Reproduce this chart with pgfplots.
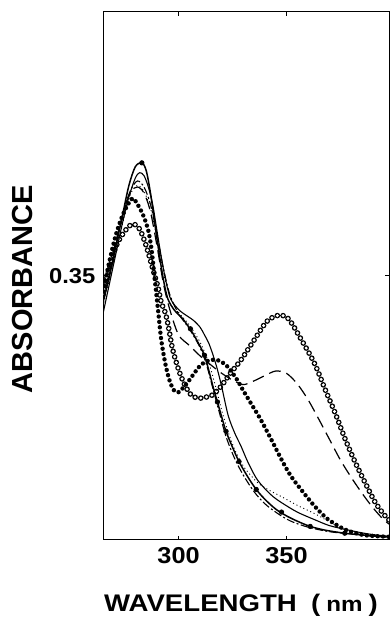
\documentclass[border=0pt]{standalone}
\usepackage{fontspec}
\setmainfont{Liberation Sans}
\newfontfamily\tickfont[FakeStretch=1.1]{Liberation Sans}
\newfontfamily\labfont[FakeStretch=1.15]{Liberation Sans}
\usepackage{pgfplots}
\pgfplotsset{compat=1.18}

\begin{document}
\begin{tikzpicture}
\useasboundingbox (-51.5pt,-39.5pt) rectangle (144pt,270pt);
\begin{axis}[
  at={(0,0)}, anchor=south west,
  scale only axis, width=143pt, height=264pt,
  xmin=265, xmax=397.5, ymin=0, ymax=0.7,
  axis line style={line width=0.5pt},
  tick align=inside, major tick length=2pt,
  tick style={line width=0.5pt, black},
  xtick={300,350}, xticklabels={300,350},
  ytick={0.35}, yticklabels={0.35},
  xticklabel style={font=\tickfont\bfseries\fontsize{11.5}{13}\selectfont},
  yticklabel style={font=\tickfont\bfseries\fontsize{10.8}{12}\selectfont, xshift=-0.3pt},
  xlabel={WAVELENGTH\hspace{0.6em}(\hspace{0.25em}{\fontsize{10.5}{12}\selectfont nm}\hspace{0.25em})},
  xlabel style={font=\labfont\bfseries\fontsize{12}{14}\selectfont,
    at={(axis description cs:0.4825,-0.136)}, anchor=base},
  ylabel={ABSORBANCE},
  ylabel style={font=\bfseries\fontsize{14.5}{16}\selectfont,
    at={(axis description cs:-0.28,0.475)}, anchor=center, rotate=0},
]

% open circles
\pgfplotstableread{
x y
265 0.325
267 0.350
271 0.389
275 0.409
278.7 0.419
282 0.412
285 0.390
288 0.360
290.5 0.335
292 0.315
294 0.300
295.5 0.280
297 0.256
299 0.235
301 0.218
303.5 0.202
306 0.192
309 0.188
312 0.189
315.5 0.192
319.5 0.203
324 0.221
329 0.239
335 0.265
341 0.290
346.5 0.298
351 0.293
357 0.265
363 0.234
368 0.199
372.6 0.168
377.3 0.133
382 0.102
386.6 0.075
391.3 0.049
396 0.031
400 0.020
}\circles
\addplot[smooth, black, line width=2.8pt, line cap=round, dash pattern=on 0pt off 2.9pt] table {\circles};
\addplot[smooth, white, line width=1.6pt, line cap=round, dash pattern=on 0pt off 2.9pt] table {\circles};

% filled dots
\addplot[smooth, black, line width=2.2pt, line cap=round, dash pattern=on 0pt off 2.7pt] coordinates {
(265,0.330) (268,0.370) (271,0.405) (274,0.430) (277,0.447) (279,0.453)
(282,0.440) (284,0.428) (286,0.410) (287.5,0.385) (289,0.345) (290.5,0.305)
(292,0.265) (294,0.232) (296,0.210) (298,0.198) (300,0.196) (302.5,0.203)
(305,0.212) (307.5,0.222) (310,0.231) (313,0.237) (317,0.239) (320,0.236)
(323,0.229) (327,0.213) (330,0.198) (334,0.179) (338,0.160) (343,0.133)
(348,0.105) (352,0.085) (357,0.066) (363,0.045) (369,0.028) (377,0.014)
(385,0.007) (392,0.005) (400,0.004)};

% long dashes
\addplot[smooth, black, line width=0.6pt, dash pattern=on 6pt off 3pt] coordinates {
(265,0.330) (270,0.385) (275,0.440) (278,0.462) (281,0.468) (284,0.460)
(287,0.435) (290,0.390) (293,0.340) (296,0.305) (300,0.272) (305,0.258)
(310,0.244) (315,0.232) (320,0.221) (325,0.212) (330,0.206) (335,0.211)
(340,0.218) (345,0.224) (350,0.221) (355,0.207) (360,0.186) (365,0.160)
(370,0.133) (375,0.106) (380,0.083) (385,0.062) (390,0.043) (395,0.027)
(400,0.016)};

% dash-dot
\addplot[smooth, black, line width=0.55pt, dash pattern=on 4pt off 1.2pt on 1pt off 1.2pt] coordinates {
(265,0.320) (270,0.380) (275,0.440) (278,0.465) (281,0.476) (284,0.468)
(287,0.445) (290,0.405) (293,0.360) (296,0.325) (300,0.300) (305,0.280)
(310,0.255) (313,0.232) (316,0.200) (319,0.168) (322,0.137) (326,0.108)
(330,0.086) (335,0.064) (340,0.048) (346,0.035) (352,0.025) (360,0.017)
(370,0.011) (380,0.008) (390,0.005) (400,0.003)};

% fine dotted
\addplot[smooth, black, line width=0.45pt, dash pattern=on 0.5pt off 1.4pt] coordinates {
(265,0.310) (270,0.370) (275,0.430) (278,0.460) (281,0.470) (284,0.462)
(287,0.440) (290,0.400) (293,0.355) (296,0.322) (300,0.302) (305,0.285)
(310,0.262) (314,0.235) (317,0.205) (320,0.172) (323,0.143) (326,0.120)
(330,0.098) (334,0.084) (337,0.075) (342,0.066) (348,0.057) (355,0.046)
(363,0.035) (370,0.024) (376,0.015) (382,0.009) (390,0.005) (400,0.003)};

% thin solid
\addplot[smooth, black, line width=0.55pt] coordinates {
(265,0.300) (268,0.340) (271,0.380) (274,0.420) (277,0.455) (280,0.480)
(282,0.487) (284,0.483) (286,0.468) (288,0.445) (290,0.410) (292,0.375)
(294,0.345) (296,0.322) (298,0.312) (301,0.303) (304,0.297) (307,0.291)
(310,0.282) (312,0.272) (314,0.261) (316,0.245) (318,0.226) (320,0.203)
(323,0.165) (326,0.142) (329,0.124) (332,0.104) (336,0.082) (340,0.068)
(344,0.057) (348,0.049) (355,0.037) (363,0.027) (370,0.019) (379,0.013)
(388,0.008) (400,0.004)};

% solid with dots
\addplot[smooth, black, line width=0.75pt] coordinates {
(265,0.315) (268,0.350) (271,0.390) (274,0.430) (277,0.470) (280,0.495)
(283,0.500) (285,0.490) (287,0.460) (289,0.420) (291,0.380) (293,0.345)
(295,0.320) (298,0.305) (302,0.293) (306,0.277) (309,0.262) (312,0.245)
(314,0.225) (316,0.203) (318,0.183) (320,0.163) (322,0.144) (325,0.123)
(328,0.104) (332,0.084) (336,0.067) (340,0.054) (345,0.041) (350,0.032)
(355,0.025) (361,0.018) (368,0.013) (377,0.009) (388,0.006) (400,0.004)};
\addplot[only marks, mark=*, mark size=1.1pt, black] coordinates {
(283,0.500) (305.5,0.280) (312,0.245) (318,0.183) (322,0.144) (328,0.104)
(336,0.067) (347.7,0.037) (361,0.018) (377,0.009)};
\end{axis}
\end{tikzpicture}
\end{document}
